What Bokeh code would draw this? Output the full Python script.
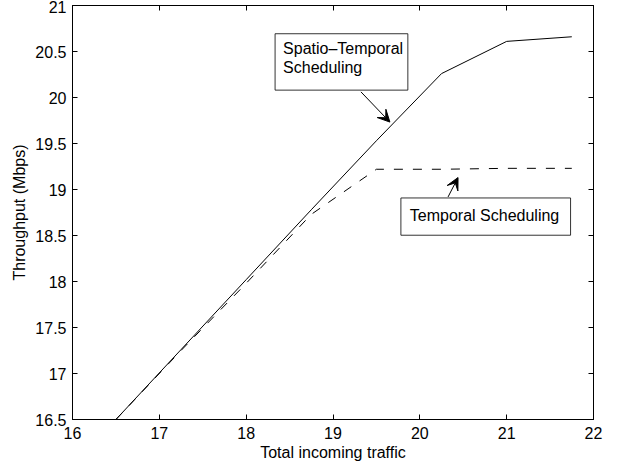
from bokeh.plotting import figure
from bokeh.models import (FixedTicker, LinearAxis, BoxAnnotation, Label, Arrow, VeeHead)
from bokeh.embed import file_html
from bokeh.resources import INLINE

# ---- data ----
traffic = [16.5, 17.25, 18.0, 18.75, 19.5, 20.25, 21.0, 21.75]
spatio_temporal = [16.5, 17.26, 18.02, 18.78, 19.53, 20.26, 20.61, 20.66]
temporal = [16.5, 17.25, 17.98, 18.73, 19.22, 19.22, 19.23, 19.23]

x_ticks = [16, 17, 18, 19, 20, 21, 22]
x_tick_labels = ["16", "17", "18", "19", "20", "21", "22"]
y_ticks = [16.5, 17, 17.5, 18, 18.5, 19, 19.5, 20, 20.5, 21]
y_tick_labels = ["16.5", "17", "17.5", "18", "18.5", "19", "19.5", "20", "20.5", "21"]

x_label = "Total incoming traffic"
y_label = "Throughput (Mbps)"
label_st = ["Spatio\u2013Temporal", "Scheduling"]
label_t = "Temporal Scheduling"

FONT = "Liberation Sans"
FS = "16px"

p = figure(width=610, height=463, x_range=(16, 22), y_range=(16.5, 21),
           output_backend="svg", toolbar_location=None,
           min_border_left=72, min_border_right=17, min_border_top=5, min_border_bottom=40)
p.xgrid.visible = False
p.ygrid.visible = False
p.outline_line_color = "black"
p.outline_line_width = 1
p.background_fill_color = "white"

def style_axis(ax, ticks, labels, show):
    ax.ticker = FixedTicker(ticks=ticks)
    ax.minor_tick_line_color = None
    ax.major_tick_in = 5
    ax.major_tick_out = 0
    ax.axis_line_color = "black"
    ax.major_tick_line_color = "black"
    if show:
        ax.major_label_overrides = {t: l for t, l in zip(ticks, labels)}
        ax.major_label_text_font = FONT
        ax.major_label_text_font_size = FS
        ax.major_label_text_color = "black"
    else:
        ax.major_label_text_color = None
        ax.major_label_standoff = 0
    ax.axis_label_text_font = FONT
    ax.axis_label_text_font_size = FS
    ax.axis_label_text_font_style = "normal"
    ax.axis_label_text_color = "black"

style_axis(p.xaxis[0], x_ticks, x_tick_labels, True)
style_axis(p.yaxis[0], y_ticks, y_tick_labels, True)
p.xaxis[0].axis_label = x_label
p.yaxis[0].axis_label = y_label
p.xaxis[0].major_label_standoff = 7
p.yaxis[0].major_label_standoff = 6
p.xaxis[0].axis_label_standoff = 2
p.yaxis[0].axis_label_standoff = 4

top = LinearAxis()
right = LinearAxis()
style_axis(top, x_ticks, x_tick_labels, False)
style_axis(right, y_ticks, y_tick_labels, False)
p.add_layout(top, "above")
p.add_layout(right, "right")

p.line(traffic, spatio_temporal, line_color="black", line_width=1)
p.line(traffic, temporal, line_color="black", line_width=1, line_dash="9 10")

# annotation boxes
p.add_layout(BoxAnnotation(left=18.333, right=19.862, top=20.693, bottom=20.08,
                           fill_color="white", fill_alpha=1, line_color="black",
                           line_width=1, line_alpha=0.8))
p.add_layout(BoxAnnotation(left=19.782, right=21.736, top=18.908, bottom=18.503,
                           fill_color="white", fill_alpha=1, line_color="black",
                           line_width=1, line_alpha=0.8))

for txt, yy in zip(label_st, [20.53, 20.325]):
    p.add_layout(Label(x=18.425, y=yy, text=txt, text_font=FONT, text_font_size=FS,
                       text_baseline="middle", text_align="left", text_color="black"))
p.add_layout(Label(x=19.885, y=18.72, text=label_t, text_font=FONT, text_font_size=FS,
                   text_baseline="middle", text_align="left", text_color="black"))

p.add_layout(Arrow(x_start=19.322, y_start=20.061, x_end=19.655, y_end=19.733,
                   line_color="black", line_width=1,
                   end=VeeHead(size=12, fill_color="black", line_color="black")))
p.add_layout(Arrow(x_start=20.325, y_start=18.919, x_end=20.44, y_end=19.13,
                   line_color="black", line_width=1,
                   end=VeeHead(size=12, fill_color="black", line_color="black")))

open("out.html", "w").write(file_html(p, INLINE))
